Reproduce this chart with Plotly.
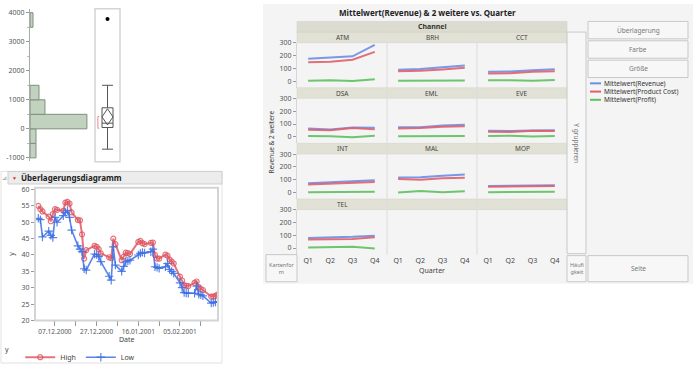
import plotly.graph_objects as go

W, H = 700, 372
def fx(p): return p / W
def fy(p): return 1 - p / H

# ---------------- data ----------------
# histogram (vertical distribution)
hist_bin_lo = [-1000, -500, 0, 500, 1000, 3500]
hist_counts = [2, 2, 19, 5, 3, 1]
hist_bin_width = 500
# outlier box plot statistics
box_q1, box_median, box_q3 = 45, 195, 725
box_lower, box_upper = -700, 1500
box_outliers = [3780]
box_mean, box_ci_lo, box_ci_hi = 410, 135, 690
shortest_half = [20, 430]

# overlay chart
dates = ["2000-11-29", "2000-11-30", "2000-12-01", "2000-12-04", "2000-12-05", "2000-12-06",
         "2000-12-07", "2000-12-08", "2000-12-11", "2000-12-12", "2000-12-13", "2000-12-14",
         "2000-12-15", "2000-12-18", "2000-12-19", "2000-12-20", "2000-12-21", "2000-12-22",
         "2000-12-26", "2000-12-27", "2000-12-28", "2000-12-29", "2001-01-02", "2001-01-03",
         "2001-01-04", "2001-01-05", "2001-01-08", "2001-01-09", "2001-01-10", "2001-01-11",
         "2001-01-12", "2001-01-16", "2001-01-17", "2001-01-18", "2001-01-19", "2001-01-22",
         "2001-01-23", "2001-01-24", "2001-01-25", "2001-01-26", "2001-01-29", "2001-01-30",
         "2001-01-31", "2001-02-01", "2001-02-02", "2001-02-05", "2001-02-06", "2001-02-07",
         "2001-02-08", "2001-02-09", "2001-02-12", "2001-02-13", "2001-02-14", "2001-02-15",
         "2001-02-16", "2001-02-20", "2001-02-21", "2001-02-22", "2001-02-23"]
high = [55.0, 54.0, 53.3, 51.7, 50.3, 52.5, 54.0, 53.8, 53.5, 56.0, 56.2, 55.7,
        53.0, 50.7, 50.6, 46.3, 38.9, 41.5, 42.8, 42.5, 41.8, 40.5, 39.3, 39.0,
        45.0, 43.3, 38.4, 39.5, 40.7, 40.6, 40.3, 44.0, 44.3, 43.6, 43.3, 43.7,
        43.8, 40.0, 38.9, 38.9, 40.1, 39.8, 38.6, 38.0, 37.4, 33.4, 32.2, 30.8,
        30.6, 30.5, 31.5, 31.9, 30.2, 29.6, 29.3, 27.3, 27.3, 27.5, 27.9]
low = [51.2, 50.8, 45.5, 47.3, 46.0, 45.3, 51.5, 50.0, 52.0, 53.0, 53.6, 51.5,
       47.6, 42.8, 41.8, 41.0, 35.8, 35.4, 40.3, 40.1, 39.5, 38.0, 33.5, 32.3,
       42.5, 36.9, 35.0, 36.5, 37.9, 38.2, 38.4, 40.0, 40.5, 40.8, 40.6, 41.0,
       41.8, 36.4, 36.2, 35.9, 36.4, 37.4, 35.6, 35.0, 34.4, 31.5, 30.0, 28.5,
       28.4, 28.3, 28.3, 30.5, 28.0, 27.8, 27.5, 25.3, 25.5, 25.6, 25.7]
date_tick_vals = ["2000-12-07", "2000-12-27", "2001-01-16", "2001-02-05"]
date_tick_text = ["07.12.2000", "27.12.2000", "16.01.2001", "05.02.2001"]

# trellis chart
quarters = ["Q1", "Q2", "Q3", "Q4"]
channels = ["ATM", "BRH", "CCT", "DSA", "EML", "EVE", "INT", "MAL", "MOP", "TEL"]
revenue = [[175, 185, 195, 285], [90, 95, 108, 123], [73, 75, 85, 93], [65, 58, 72, 70],
           [75, 75, 88, 95], [48, 45, 50, 52], [72, 78, 88, 95], [118, 120, 130, 140],
           [50, 52, 55, 57], [78, 82, 88, 97]]
product_cost = [[148, 152, 168, 230], [78, 82, 92, 105], [60, 62, 73, 78], [55, 52, 68, 58],
                [65, 68, 78, 82], [40, 38, 48, 45], [62, 68, 75, 82], [105, 100, 112, 115],
                [45, 45, 48, 50], [68, 70, 72, 85]]
profit = [[3, 7, 0, 15], [3, 2, 1, 4], [6, 7, 2, 9], [5, 4, -3, 8], [4, 3, 2, 5],
          [6, 8, 1, 5], [2, 3, 5, 6], [0, 10, 2, 8], [2, 3, 5, 6], [5, 8, 10, -3]]
series_names = ["Mittelwert(Revenue)", "Mittelwert(Product Cost)", "Mittelwert(Profit)"]
series_colors = ["#6a8fe6", "#e3606b", "#5fc05f"]
y_ticks = [0, 100, 200, 300]

FONT = "Noto Sans, sans-serif"
TICK = dict(size=7, color="#555")

# ---------------- figure ----------------
fig = go.Figure()
shapes, annotations = [], []

def rect(x0, y0, x1, y1, fill, line="rgba(0,0,0,0)", lw=1, layer="above"):
    shapes.append(dict(type="rect", xref="paper", yref="paper", x0=fx(x0), x1=fx(x1),
                       y0=fy(y1), y1=fy(y0), fillcolor=fill,
                       line=dict(color=line, width=lw), layer=layer))

def hline(x0, y0, x1, y1, color, lw=1):
    shapes.append(dict(type="line", xref="paper", yref="paper", x0=fx(x0), x1=fx(x1),
                       y0=fy(y0), y1=fy(y1), line=dict(color=color, width=lw)))

def text(x, y, s, size=7, color="#444", bold=False, angle=0, xanchor="center"):
    annotations.append(dict(xref="paper", yref="paper", x=fx(x), y=fy(y),
                            text=("<b>%s</b>" % s) if bold else s, showarrow=False,
                            font=dict(size=size, color=color), textangle=angle,
                            xanchor=xanchor, yanchor="middle", borderpad=0))

HIDDEN = dict(showticklabels=False, ticks="", showline=False, showgrid=False,
              zeroline=False, autorange=False, fixedrange=True)

# --- histogram ---
fig.add_trace(go.Bar(orientation="h", y=[b + hist_bin_width / 2 for b in hist_bin_lo],
                     x=hist_counts, width=hist_bin_width, xaxis="x", yaxis="y",
                     marker=dict(color="#c1d2bf", line=dict(color="#7f8f7d", width=1)),
                     showlegend=False, hoverinfo="skip"))

# --- box plot ---
fig.add_trace(go.Box(x=[0], q1=[box_q1], median=[box_median], q3=[box_q3],
                     lowerfence=[box_lower], upperfence=[box_upper], width=0.88,
                     whiskerwidth=1, boxpoints=False, fillcolor="rgba(0,0,0,0)",
                     line=dict(color="#555", width=1), xaxis="x2", yaxis="y2",
                     showlegend=False, hoverinfo="skip"))
fig.add_trace(go.Scatter(x=[-0.44, 0, 0.44, 0, -0.44],
                         y=[box_mean, box_ci_hi, box_mean, box_ci_lo, box_mean],
                         mode="lines", line=dict(color="#555", width=1),
                         xaxis="x2", yaxis="y2", showlegend=False, hoverinfo="skip"))
fig.add_trace(go.Scatter(x=[0] * len(box_outliers), y=box_outliers, mode="markers",
                         marker=dict(color="black", size=4), xaxis="x2", yaxis="y2",
                         showlegend=False, hoverinfo="skip"))
fig.add_trace(go.Scatter(x=[-0.66, -0.77, -0.77, -0.66],
                         y=[shortest_half[1], shortest_half[1], shortest_half[0], shortest_half[0]],
                         mode="lines", line=dict(color="#e98a92", width=1),
                         xaxis="x2", yaxis="y2", showlegend=False, hoverinfo="skip"))

# --- overlay chart ---
fig.add_trace(go.Scatter(x=dates, y=high, name="High", mode="lines+markers",
                         line=dict(color="rgba(222,80,92,0.8)", width=2),
                         marker=dict(symbol="circle-open", size=5,
                                     line=dict(color="rgba(230,100,110,0.6)", width=1.2)),
                         xaxis="x3", yaxis="y3"))
fig.add_trace(go.Scatter(x=dates, y=low, name="Low", mode="lines+markers",
                         line=dict(color="rgba(60,110,228,0.85)", width=1.6),
                         marker=dict(symbol="cross-thin-open", size=6,
                                     line=dict(color="rgba(80,125,235,0.7)", width=1.2)),
                         xaxis="x3", yaxis="y3"))

layout = dict(
    width=W, height=H, margin=dict(l=0, r=0, t=0, b=0),
    paper_bgcolor="white", plot_bgcolor="white",
    font=dict(family=FONT, size=7, color="#444"),
    xaxis=dict(domain=[fx(30), fx(95)], range=[0, 21.7], anchor="y", **HIDDEN),
    yaxis=dict(domain=[fy(162), fy(5)], range=[-1100, 4133], anchor="x",
               tickvals=[-1000, 0, 1000, 2000, 3000, 4000],
               ticktext=["-1000", "0", "1000", "2000", "3000", "4000"],
               ticks="outside", ticklen=3, tickcolor="#999", showline=True,
               linecolor="#aaa", showgrid=False, zeroline=False, tickfont=TICK,
               minor=dict(dtick=500, ticks="outside", ticklen=2, tickcolor="#bbb")),
    xaxis2=dict(domain=[fx(95), fx(120)], range=[-1, 1], anchor="y2", **HIDDEN),
    yaxis2=dict(domain=[fy(162), fy(5)], range=[-1100, 4133], anchor="x2", **HIDDEN),
    xaxis3=dict(domain=[fx(35), fx(218)], type="date",
                range=["2000-11-27 10:00", "2001-02-23 06:00"], anchor="y3",
                tickvals=date_tick_vals, ticktext=date_tick_text, ticks="outside",
                ticklen=5, tickcolor="#999", showgrid=False, showline=False,
                tickangle=0, tickfont=dict(size=6.5, color="#555"),
                minor=dict(dtick=10 * 86400000, tick0="2000-11-27", ticks="outside",
                           ticklen=5, tickcolor="#999")),
    yaxis3=dict(domain=[fy(327), fy(190)], range=[20, 60.5], anchor="x3",
                tickvals=[20, 25, 30, 35, 40, 45, 50, 55, 60], ticks="outside",
                ticklen=3, tickcolor="#999", showgrid=False, zeroline=False,
                tickfont=TICK),
    legend=dict(orientation="h", x=fx(3), y=fy(350), xanchor="left", yanchor="top",
                font=dict(size=7, color="#444"), bgcolor="rgba(0,0,0,0)",
                title=dict(text="y  ", side="left", font=dict(size=7, color="#444")),
                itemwidth=30, tracegroupgap=0),
)

# --- trellis panels ---
col_x = [297, 387, 477, 567]
row_h = 57.5
for r in range(4):
    ptop = 40 + row_h * r
    pbot = ptop + 46.5
    for c in range(3):
        k = r * 3 + c
        n = 4 + k
        xa, ya = "xaxis%d" % n, "yaxis%d" % n
        layout[xa] = dict(domain=[fx(col_x[c]), fx(col_x[c + 1])], type="category",
                          categoryorder="array", categoryarray=quarters,
                          range=[-0.5, 3.55], anchor="y%d" % n, showgrid=False,
                          showline=False, zeroline=False, ticks="",
                          showticklabels=(r == 3), tickfont=dict(size=7, color="#444"))
        layout[ya] = dict(domain=[fy(pbot), fy(ptop)], range=[-52, 302],
                          anchor="x%d" % n, showgrid=False, zeroline=False,
                          tickvals=y_ticks, showticklabels=(c == 0),
                          ticks="outside" if c == 0 else "", ticklen=3, tickcolor="#999",
                          showline=(c == 0), linecolor="#d6d6d6", tickfont=TICK)
        if k < len(channels):
            for vals, name, col in zip([revenue[k], product_cost[k], profit[k]],
                                       series_names, series_colors):
                fig.add_trace(go.Scatter(x=quarters, y=vals, mode="lines", name=name,
                                         line=dict(color=col, width=2), opacity=0.9,
                                         xaxis="x%d" % n, yaxis="y%d" % n,
                                         showlegend=False, hoverinfo="skip"))
        else:
            fig.add_trace(go.Scatter(x=quarters, y=[None] * 4, mode="lines",
                                     xaxis="x%d" % n, yaxis="y%d" % n,
                                     showlegend=False, hoverinfo="skip"))
    # strip
    rect(297, 29 + row_h * r, 567, 40 + row_h * r, "#e2e1d5", "#d2d1c5", 0.5)
    for c in range(3):
        k = r * 3 + c
        if k < len(channels):
            text((col_x[c] + col_x[c + 1]) / 2, 34.5 + row_h * r, channels[k], size=6.5, color="#444")

# gray background for the graph builder
rect(263, 0, 693, 289, "#f4f4f4", layer="below")
# channel header
rect(297, 18, 567, 29, "#dcdbcf", "#d0cfc3", 0.5)
text(432, 23.5, "Channel", size=7, color="#333", bold=True)
# column separators
for xsep in [387, 477]:
    hline(xsep, 40, xsep, 259, "#dcdcdc", 1)
# title
text(427, 9, "Mittelwert(Revenue) &amp; 2 weitere vs. Quarter", size=8, color="#222", bold=True)
text(271, 143, "Revenue &amp; 2 weitere", size=6.5, color="#444", angle=-90)
text(432, 275, "Quarter", size=7, color="#444")

# buttons / drop zones
def button(x0, y0, x1, y1, label, size=6.5, angle=0):
    rect(x0, y0, x1, y1, "#f7f7f7", "#c8c8c8", 1)
    text((x0 + x1) / 2, (y0 + y1) / 2, label, size=size, color="#777", angle=angle)

button(588, 18, 688, 36, "Überlagerung")
button(588, 38, 688, 56, "Farbe")
button(588, 58, 688, 76, "Größe")
button(567, 29, 586, 258, "Y gruppieren", angle=90)
button(567, 260, 586, 287, "Häufi<br>gkeit", size=5.5)
button(588, 260, 688, 287, "Seite")
button(266, 259, 297, 287, "Kartenfor<br>m", size=5.5)

# trellis legend
for i, (name, col) in enumerate(zip(series_names, series_colors)):
    yy = 82 + i * 8.5
    hline(590, yy, 601, yy, col, 2)
    text(603, yy, name, size=6.5, color="#333", xanchor="left")

# box plot frame
rect(95, 5, 120, 163, "rgba(0,0,0,0)", "#d4d4d4", 1.5)

# overlay panel
rect(1, 173, 222, 371, "rgba(0,0,0,0)", "#e2e2e2", 1)
rect(8, 173, 222, 186, "#ececec", "#cfcfcf", 1)
text(4, 180, "⊿", size=6, color="#888")
text(14, 180, "▼", size=5, color="#d03030")
text(20, 179.5, "Überlagerungsdiagramm", size=8, color="#222", bold=True, xanchor="left")
shapes.append(dict(type="rect", xref="x3 domain", yref="y3 domain", x0=0, x1=1, y0=0, y1=1,
                   line=dict(color="#d4d4d4", width=2), fillcolor="rgba(0,0,0,0)"))
text(12, 258, "y", size=7, color="#444", angle=-90)
text(127, 347, "Date", size=7, color="#444")

layout["shapes"] = shapes
layout["annotations"] = annotations
fig.update_layout(**layout)
fig.write_html("out.html", config={"displayModeBar": False},
               post_script="document.body.style.margin='0';document.body.style.padding='0';")
